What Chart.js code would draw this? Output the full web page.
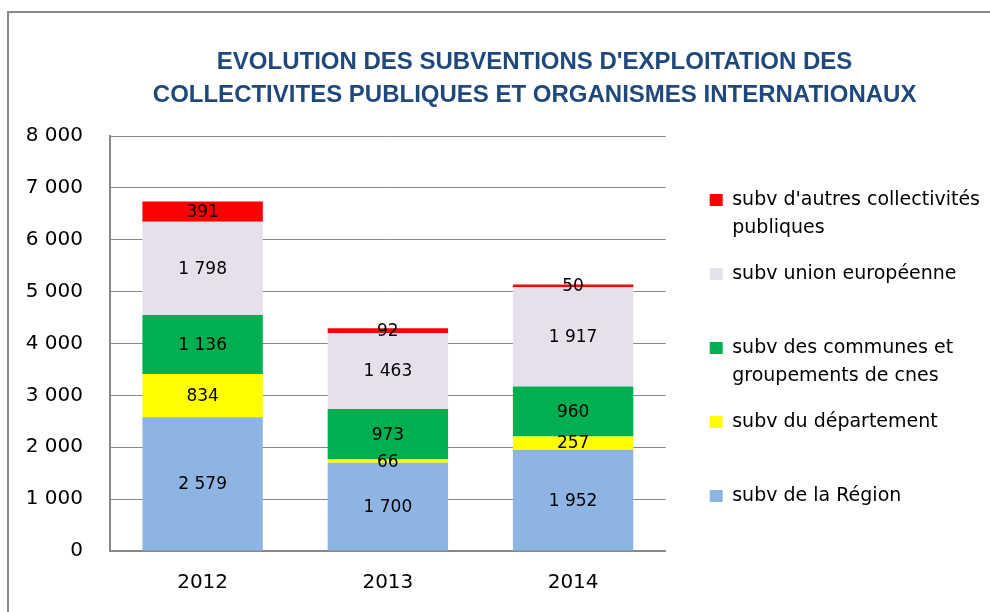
<!DOCTYPE html>
<html><head><meta charset="utf-8">
<script src="https://cdn.jsdelivr.net/npm/chart.js@4.4.1/dist/chart.umd.min.js"></script>
<style>
html,body{margin:0;padding:0;background:#fff;}
#wrap{position:relative;width:990px;height:612px;overflow:hidden;}
#frame{position:absolute;left:7px;top:11px;width:1000px;height:620px;border-top:2px solid #8a8a8a;border-left:2px solid #8a8a8a;}
canvas{position:absolute;left:0;top:0;}
</style></head><body>
<div id="wrap"><div id="frame"></div><canvas id="c" width="990" height="612"></canvas></div>
<script>
const years = ['2012', '2013', '2014'];
const seriesNames = ["subv de la Région", "subv du département", "subv des communes et groupements de cnes", "subv union européenne", "subv d'autres collectivités publiques"];
const region = [2579, 1700, 1952];
const departement = [834, 66, 257];
const communes = [1136, 973, 960];
const unionEuropeenne = [1798, 1463, 1917];
const autres = [391, 92, 50];
const yTickValues = [0, 1000, 2000, 3000, 4000, 5000, 6000, 7000, 8000];
const titleLines = ["EVOLUTION DES SUBVENTIONS D'EXPLOITATION DES", "COLLECTIVITES PUBLIQUES ET ORGANISMES INTERNATIONAUX"];

const colors = ['#8EB4E3', '#FFFF00', '#00B050', '#E6E0EC', '#FF0000'];
const seriesValues = [region, departement, communes, unionEuropeenne, autres];

function fmt(v) { return String(v).replace(/\B(?=(\d{3})+(?!\d))/g, ' '); }

function wrapWords(text, maxChars) {
  const words = text.split(' ');
  const lines = [];
  let cur = '';
  words.forEach(w => {
    const next = cur ? cur + ' ' + w : w;
    if (next.length > maxChars && cur) { lines.push(cur); cur = w; } else { cur = next; }
  });
  if (cur) lines.push(cur);
  return lines;
}

const valueLabels = {
  id: 'valueLabels',
  afterDatasetsDraw(chart) {
    const ctx = chart.ctx;
    ctx.save();
    ctx.font = '17px "DejaVu Sans"';
    ctx.fillStyle = '#000';
    ctx.textAlign = 'center';
    ctx.textBaseline = 'middle';
    chart.data.datasets.forEach((ds, i) => {
      const meta = chart.getDatasetMeta(i);
      meta.data.forEach((el, j) => {
        const p = el.getCenterPoint();
        ctx.fillText(fmt(ds.data[j]), p.x, p.y + 1);
      });
    });
    ctx.restore();
  }
};

const mainTitle = {
  id: 'mainTitle',
  afterDraw(chart) {
    const ctx = chart.ctx;
    ctx.save();
    ctx.font = 'bold 24px "Liberation Sans"';
    ctx.fillStyle = '#1F497D';
    ctx.textAlign = 'center';
    ctx.textBaseline = 'middle';
    const cx = chart.width * 0.54;
    titleLines.forEach((t, k) => ctx.fillText(t, cx, 62 + k * 33.5));
    ctx.restore();
  }
};

new Chart(document.getElementById('c'), {
  type: 'bar',
  data: {
    labels: years,
    datasets: seriesNames.map((name, i) => ({
      label: name,
      data: seriesValues[i],
      backgroundColor: colors[i],
      borderWidth: 0,
      categoryPercentage: 1,
      barPercentage: 0.65
    }))
  },
  options: {
    responsive: false,
    devicePixelRatio: 1,
    animation: false,
    layout: { padding: { top: 136, bottom: 17, left: 0, right: 0 } },
    plugins: {
      title: { display: false },
      tooltip: { enabled: false },
      legend: {
        position: 'right',
        fullSize: false,
        reverse: true,
        maxWidth: 340,
        align: 'center',
        title: { display: true, text: ' ', padding: { top: 0, bottom: 3.6 }, font: { size: 12 } },
        labels: {
          boxWidth: 13,
          boxHeight: 12,
          padding: 18,
          color: '#000',
          font: { family: 'DejaVu Sans', size: 19, lineHeight: 28 / 19 },
          generateLabels(chart) {
            return chart.data.datasets.map((ds, i) => {
              const lines = wrapWords(ds.label, 27);
              if (i > 0 && lines.length < 2) lines.push('');
              return {
                text: lines,
                fillStyle: ds.backgroundColor,
                strokeStyle: ds.backgroundColor,
                lineWidth: 0,
                hidden: false,
                fontColor: '#000',
                datasetIndex: i
              };
            });
          }
        }
      }
    },
    scales: {
      x: {
        stacked: true,
        grid: { display: false, drawTicks: false },
        border: { display: true, color: '#888888', width: 2 },
        ticks: { padding: 20, color: '#000', font: { family: 'DejaVu Sans', size: 20 } },
        afterFit(scale) { scale.height = 44; }
      },
      y: {
        stacked: true,
        min: 0,
        max: 8000,
        afterBuildTicks(scale) { scale.ticks = yTickValues.map(v => ({ value: v })); },
        ticks: { padding: 27, color: '#000', font: { family: 'DejaVu Sans', size: 20 }, callback: v => fmt(v) },
        grid: { color: '#888888', lineWidth: 1, drawTicks: false },
        border: { display: true, color: '#888888', width: 2 },
        afterFit(scale) { scale.width = 110; }
      },
      yGap: {
        position: 'right',
        display: true,
        grid: { display: false, drawTicks: false },
        border: { display: false },
        ticks: { display: false },
        afterFit(scale) { scale.width = 26; }
      }
    }
  },
  plugins: [valueLabels, mainTitle]
});
</script>
</body></html>
